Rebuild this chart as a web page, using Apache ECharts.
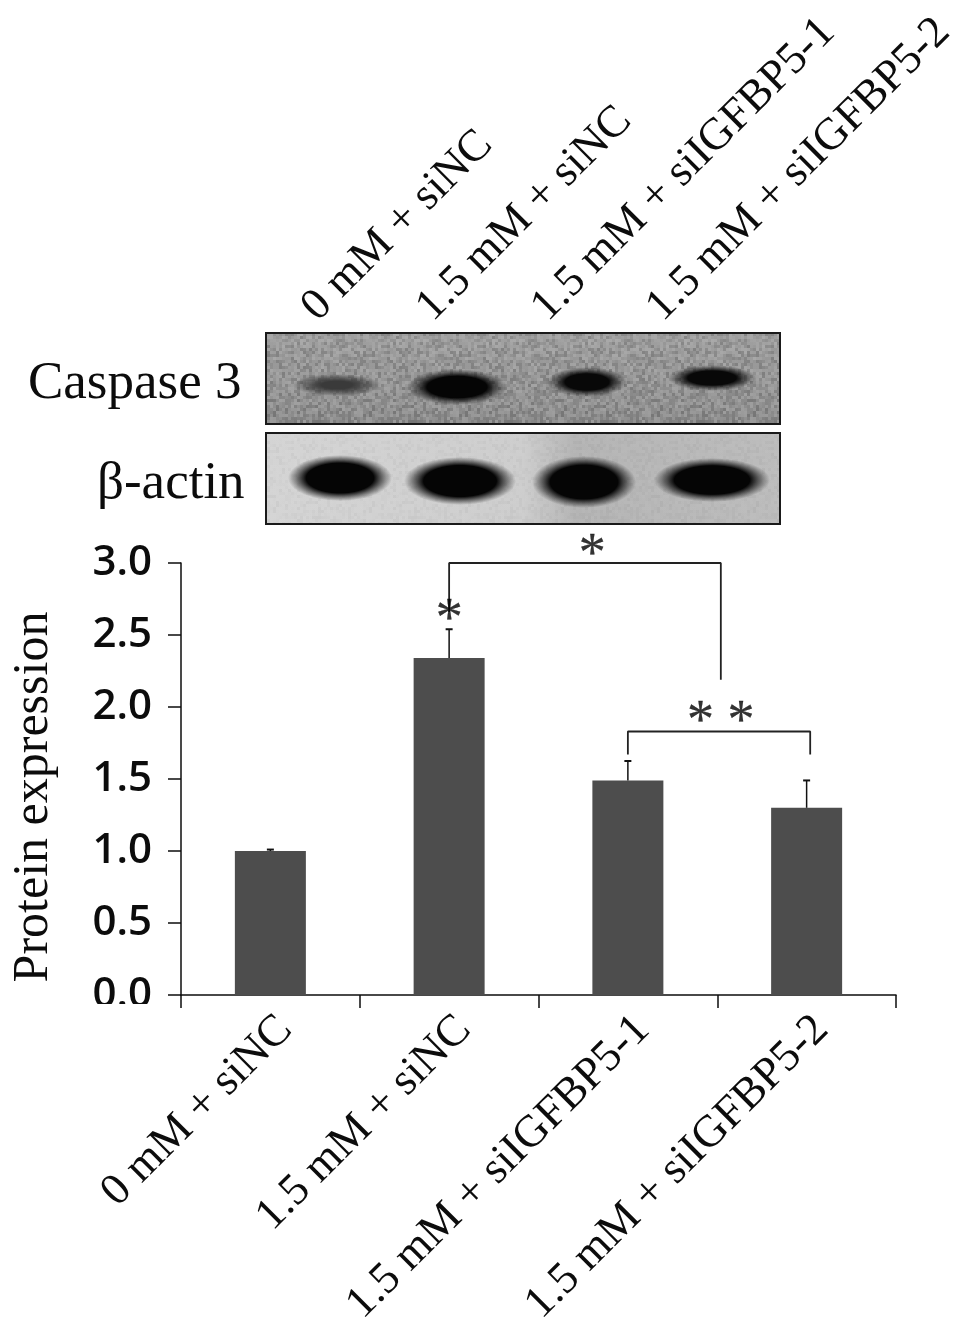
<!DOCTYPE html>
<html>
<head>
<meta charset="utf-8">
<style>html,body{margin:0;padding:0;background:#fff}#c{width:969px;height:1338px}</style>
<script src="https://cdn.jsdelivr.net/npm/echarts@6/dist/echarts.min.js"></script>
</head>
<body>
<div id="c"></div>
<script>
const categories = ['0 mM + siNC', '1.5 mM + siNC', '1.5 mM + siIGFBP5-1', '1.5 mM + siIGFBP5-2'];
const values = [1.0, 2.34, 1.49, 1.30];
const errorTops = [1.01, 2.54, 1.625, 1.49];
const yTicks = [0, 0.5, 1, 1.5, 2, 2.5, 3];
const bracketOne = [[1, 2.66], [1, 3], [2.52, 3], [2.52, 2.19]];
const bracketTwo = [[2, 1.67], [2, 1.83], [3.02, 1.83], [3.02, 1.67]];
const stars = [[1, 2.41, '*'], [1.8, 2.86, '*'], [2.52, 1.70, '* *']];

const serif = '"Liberation Serif"';
const ink = '#0c0c0c';

// Fixed film-grain tile for the blot panels (a texture, not chart data).
function grainTile(strength) {
  const size = 96, cell = 3;
  const cv = document.createElement('canvas');
  cv.width = cv.height = size;
  const ctx = cv.getContext('2d');
  let s = 12345;
  for (let y = 0; y < size; y += cell) {
    for (let x = 0; x < size; x += cell) {
      s = (s * 1103515 + 12345) % 2147483;
      const v = s / 2147483 - 0.5;
      ctx.fillStyle = v > 0
        ? 'rgba(255,255,255,' + (v * strength) + ')'
        : 'rgba(0,0,0,' + (-v * strength) + ')';
      ctx.fillRect(x, y, cell, cell);
    }
  }
  return cv;
}
function band(cx, cy, rx, ry, core, hold) {
  return {
    type: 'circle', z: 4, silent: true,
    x: cx, y: cy, scaleX: rx / ry, scaleY: 1,
    shape: { cx: 0, cy: 0, r: ry },
    style: {
      fill: {
        type: 'radial', x: 0.5, y: 0.5, r: 0.5,
        colorStops: [
          { offset: 0, color: core },
          { offset: hold, color: core },
          { offset: 1, color: 'rgba(30,30,30,0)' }
        ]
      }
    }
  };
}
function blotFrame(y, fill, z, stroke) {
  return {
    type: 'rect', z, silent: true,
    shape: { x: 266, y, width: 514, height: 91 },
    style: { fill, stroke, lineWidth: 2 }
  };
}
const casp = {
  type: 'linear', x: 0, y: 0, x2: 0, y2: 1,
  colorStops: [{ offset: 0, color: '#9c9c9c' }, { offset: 0.5, color: '#959595' }, { offset: 1, color: '#8a8a8a' }]
};
const actinFill = {
  type: 'linear', x: 0, y: 0, x2: 1, y2: 0,
  colorStops: [{ offset: 0, color: '#d4d4d4' }, { offset: 0.5, color: '#cdcdcd' }, { offset: 0.6, color: '#b4b4b4' }, { offset: 1, color: '#bcbcbc' }]
};

const option = {
  animation: false,
  backgroundColor: '#fff',
  grid: [
    { left: 181, top: 563, width: 715, height: 432, outerBoundsMode: 'none' },
    { left: 252, top: 322, width: 460, height: 90, outerBoundsMode: 'none' },
    { left: 196, top: 563, width: 715, height: 432, outerBoundsMode: 'none' }
  ],
  xAxis: [
    {
      type: 'category', gridIndex: 0, data: categories,
      axisLine: { lineStyle: { color: ink, width: 1.5 } },
      axisTick: { show: true, length: 13, alignWithLabel: false, lineStyle: { color: ink, width: 1.5 } },
      axisLabel: { show: false }
    },
    { type: 'value', gridIndex: 0, min: -0.5, max: 3.5, show: false },
    {
      type: 'category', gridIndex: 1, position: 'top', data: categories,
      axisLine: { show: false }, axisTick: { show: false },
      axisLabel: { interval: 0, rotate: 45, margin: 8, color: ink, fontFamily: serif, fontSize: 45 }
    },
    {
      type: 'category', gridIndex: 2, position: 'bottom', data: categories,
      axisLine: { show: false }, axisTick: { show: false },
      axisLabel: { interval: 0, rotate: 45, margin: 28, color: ink, fontFamily: serif, fontSize: 45 }
    }
  ],
  yAxis: [
    {
      type: 'value', gridIndex: 0, min: 0, max: 3, interval: 0.5,
      name: 'Protein expression', nameLocation: 'middle', nameGap: 122, nameRotate: 90,
      nameTextStyle: { color: ink, fontFamily: serif, fontSize: 50, padding: [0, 36, 0, 0] },
      axisLine: { show: true, onZero: false, lineStyle: { color: ink, width: 1.5 } },
      axisTick: { show: true, length: 13, lineStyle: { color: ink, width: 1.5 } },
      splitLine: { show: false },
      axisLabel: {
        margin: 29, color: ink, fontFamily: '"Open Sans"', fontSize: 42, fontWeight: 600,
        customValues: yTicks, formatter: v => v.toFixed(1)
      }
    },
    { type: 'value', gridIndex: 1, show: false, min: 0, max: 1 },
    { type: 'value', gridIndex: 2, show: false, min: 0, max: 1 }
  ],
  series: [
    {
      type: 'bar', xAxisIndex: 0, yAxisIndex: 0, data: values, barWidth: 71,
      itemStyle: { color: '#4d4d4d' }, z: 2
    },
    {
      type: 'custom', xAxisIndex: 0, yAxisIndex: 0, z: 3,
      data: errorTops.map((t, i) => [i, values[i], t]),
      renderItem(params, api) {
        const a = api.coord([api.value(0), api.value(1)]);
        const b = api.coord([api.value(0), api.value(2)]);
        return {
          type: 'group', children: [
            { type: 'line', shape: { x1: a[0], y1: a[1], x2: b[0], y2: b[1] }, style: { stroke: '#111', lineWidth: 1.5 } },
            { type: 'line', shape: { x1: b[0] - 3.5, y1: b[1], x2: b[0] + 3.5, y2: b[1] }, style: { stroke: '#111', lineWidth: 2 } }
          ]
        };
      }
    },
    {
      type: 'line', xAxisIndex: 1, yAxisIndex: 0, data: bracketOne, symbol: 'none',
      lineStyle: { color: '#222', width: 1.8 }, clip: false, z: 4
    },
    {
      type: 'line', xAxisIndex: 1, yAxisIndex: 0, data: bracketTwo, symbol: 'none',
      lineStyle: { color: '#222', width: 1.8 }, clip: false, z: 4
    },
    {
      type: 'scatter', xAxisIndex: 1, yAxisIndex: 0, data: stars, symbolSize: 1, clip: false,
      itemStyle: { color: 'rgba(0,0,0,0)' },
      label: {
        show: true, position: 'top', distance: 0, color: '#000',
        textBorderColor: '#000', textBorderWidth: 0.3,
        fontFamily: serif, fontSize: 54, formatter: p => p.data[2]
      },
      z: 5
    }
  ],
  graphic: [
    blotFrame(333, casp, 2, '#1a1a1a'),
    blotFrame(433, actinFill, 2, '#1a1a1a'),
    blotFrame(333, { image: grainTile(0.32), repeat: 'repeat' }, 3, '#1a1a1a'),
    blotFrame(433, { image: grainTile(0.07), repeat: 'repeat' }, 3, '#1a1a1a'),
    band(337, 385, 44, 11, '#3a3a3a', 0.35),
    band(457, 387, 50, 18, '#050505', 0.6),
    band(587, 382, 40, 15, '#080808', 0.55),
    band(712, 378, 44, 13, '#080808', 0.55),
    band(340, 478, 52, 23, '#050505', 0.65),
    band(460, 481, 56, 24, '#050505', 0.65),
    band(584, 482, 52, 26, '#050505', 0.65),
    band(712, 480, 58, 22, '#050505', 0.65),
    {
      type: 'text', silent: true, z: 5, left: 28, top: 358,
      style: { text: 'Caspase 3', fill: ink, font: '53px "Liberation Serif"' }
    },
    {
      type: 'text', silent: true, z: 5, left: 97, top: 458,
      style: { text: 'β-actin', fill: ink, font: '53px "Liberation Serif"' }
    },
    {
      type: 'rect', silent: true, z: 100,
      shape: { x: 85, y: 1004, width: 75, height: 14 }, style: { fill: '#fff' }
    }
  ]
};
const chart = echarts.init(document.getElementById('c'), null, { renderer: 'canvas' });
chart.setOption(option);
</script>
</body>
</html>
